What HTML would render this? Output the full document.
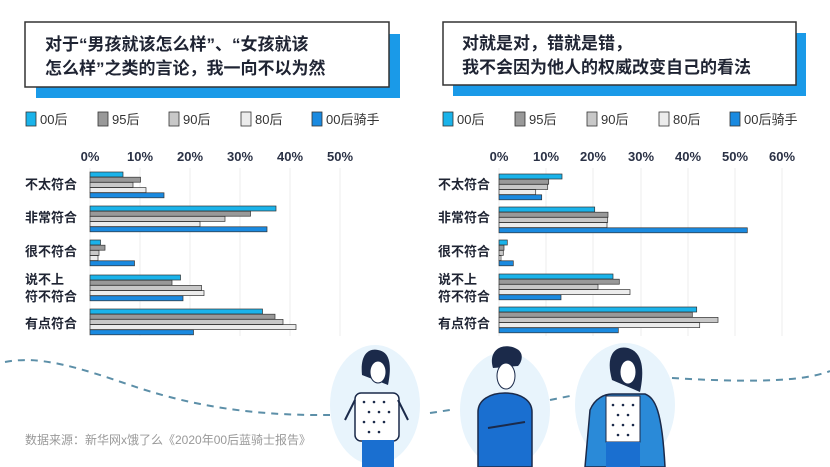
<!DOCTYPE html>
<html><head><meta charset="utf-8"><style>
html,body{margin:0;padding:0;background:#fff;}
svg{display:block;font-family:"Liberation Sans","Noto Sans CJK SC",sans-serif;}
</style></head><body>
<svg width="830" height="467" viewBox="0 0 830 467" xmlns="http://www.w3.org/2000/svg">
<rect x="36" y="34" width="364" height="64" fill="#1a9ae8"/>
<rect x="25" y="22" width="364" height="65" fill="#fff" stroke="#333" stroke-width="1.5"/>
<text x="45" y="50" font-size="17" font-weight="bold" fill="#1f2433">对于“男孩就该怎么样”、“女孩就该</text>
<text x="45" y="74" font-size="17" font-weight="bold" fill="#1f2433">怎么样”之类的言论，我一向不以为然</text>
<rect x="453" y="33" width="353" height="63" fill="#1a9ae8"/>
<rect x="443" y="22" width="353" height="63" fill="#fff" stroke="#333" stroke-width="1.5"/>
<text x="462" y="49" font-size="17" font-weight="bold" fill="#1f2433">对就是对，错就是错，</text>
<text x="462" y="73" font-size="17" font-weight="bold" fill="#1f2433">我不会因为他人的权威改变自己的看法</text>

<g font-size="13" fill="#333">
<rect x="26" y="112" width="10" height="14" fill="#1ab3ea" stroke="#333" stroke-width="0.8"/><text x="40" y="124">00后</text>
<rect x="98" y="112" width="10" height="14" fill="#999" stroke="#333" stroke-width="0.8"/><text x="112" y="124">95后</text>
<rect x="169" y="112" width="10" height="14" fill="#c8c8c8" stroke="#333" stroke-width="0.8"/><text x="183" y="124">90后</text>
<rect x="241" y="112" width="10" height="14" fill="#ececec" stroke="#333" stroke-width="0.8"/><text x="255" y="124">80后</text>
<rect x="312" y="112" width="10" height="14" fill="#1a8ae0" stroke="#333" stroke-width="0.8"/><text x="326" y="124">00后骑手</text>
<rect x="443" y="112" width="10" height="14" fill="#1ab3ea" stroke="#333" stroke-width="0.8"/><text x="457" y="124">00后</text>
<rect x="515" y="112" width="10" height="14" fill="#999" stroke="#333" stroke-width="0.8"/><text x="529" y="124">95后</text>
<rect x="587" y="112" width="10" height="14" fill="#c8c8c8" stroke="#333" stroke-width="0.8"/><text x="601" y="124">90后</text>
<rect x="659" y="112" width="10" height="14" fill="#ececec" stroke="#333" stroke-width="0.8"/><text x="673" y="124">80后</text>
<rect x="730" y="112" width="10" height="14" fill="#1a8ae0" stroke="#333" stroke-width="0.8"/><text x="744" y="124">00后骑手</text>
</g>

<g stroke="#eee" stroke-width="1">
<line x1="90" y1="168" x2="90" y2="336"/><line x1="140" y1="168" x2="140" y2="336"/><line x1="190" y1="168" x2="190" y2="336"/><line x1="240" y1="168" x2="240" y2="336"/><line x1="290" y1="168" x2="290" y2="336"/><line x1="340" y1="168" x2="340" y2="336"/>
<line x1="499" y1="168" x2="499" y2="336"/><line x1="546" y1="168" x2="546" y2="336"/><line x1="593" y1="168" x2="593" y2="336"/><line x1="641" y1="168" x2="641" y2="336"/><line x1="688" y1="168" x2="688" y2="336"/><line x1="735" y1="168" x2="735" y2="336"/><line x1="782" y1="168" x2="782" y2="336"/>
</g>
<g font-size="13" font-weight="bold" fill="#2a3145" text-anchor="middle">
<text x="90" y="161">0%</text><text x="140" y="161">10%</text><text x="190" y="161">20%</text><text x="240" y="161">30%</text><text x="290" y="161">40%</text><text x="340" y="161">50%</text>
<text x="499" y="161">0%</text><text x="546" y="161">10%</text><text x="593" y="161">20%</text><text x="641" y="161">30%</text><text x="688" y="161">40%</text><text x="735" y="161">50%</text><text x="782" y="161">60%</text>
</g>
<g font-size="13" font-weight="bold" fill="#1f2433">
<text x="25" y="189">不太符合</text><text x="25" y="222">非常符合</text><text x="25" y="256">很不符合</text><text x="25" y="284">说不上</text><text x="25" y="301">符不符合</text><text x="25" y="328">有点符合</text>
<text x="438" y="189">不太符合</text><text x="438" y="222">非常符合</text><text x="438" y="256">很不符合</text><text x="438" y="284">说不上</text><text x="438" y="301">符不符合</text><text x="438" y="328">有点符合</text>
</g>

<g stroke="#333" stroke-width="0.7">
<rect x="90" y="172" width="33" height="5" fill="#1ab3ea"/><rect x="90" y="177.2" width="50.5" height="5" fill="#999"/><rect x="90" y="182.4" width="43" height="5" fill="#c8c8c8"/><rect x="90" y="187.6" width="56" height="5" fill="#ececec"/><rect x="90" y="192.8" width="74" height="5" fill="#1a8ae0"/>
<rect x="90" y="206" width="186" height="5" fill="#1ab3ea"/><rect x="90" y="211.2" width="160.5" height="5" fill="#999"/><rect x="90" y="216.4" width="135" height="5" fill="#c8c8c8"/><rect x="90" y="221.6" width="110" height="5" fill="#ececec"/><rect x="90" y="226.8" width="177" height="5" fill="#1a8ae0"/>
<rect x="90" y="240" width="10.5" height="5" fill="#1ab3ea"/><rect x="90" y="245.2" width="15" height="5" fill="#999"/><rect x="90" y="250.4" width="9" height="5" fill="#c8c8c8"/><rect x="90" y="255.6" width="8" height="5" fill="#ececec"/><rect x="90" y="260.8" width="44.5" height="5" fill="#1a8ae0"/>
<rect x="90" y="275" width="90.5" height="5" fill="#1ab3ea"/><rect x="90" y="280.2" width="82" height="5" fill="#999"/><rect x="90" y="285.4" width="111.5" height="5" fill="#c8c8c8"/><rect x="90" y="290.6" width="114" height="5" fill="#ececec"/><rect x="90" y="295.8" width="93" height="5" fill="#1a8ae0"/>
<rect x="90" y="309" width="172.5" height="5" fill="#1ab3ea"/><rect x="90" y="314.2" width="185" height="5" fill="#999"/><rect x="90" y="319.4" width="193" height="5" fill="#c8c8c8"/><rect x="90" y="324.6" width="206" height="5" fill="#ececec"/><rect x="90" y="329.8" width="103.5" height="5" fill="#1a8ae0"/>
<rect x="499" y="174" width="63" height="5" fill="#1ab3ea"/><rect x="499" y="179.2" width="49.7" height="5" fill="#999"/><rect x="499" y="184.4" width="48.7" height="5" fill="#c8c8c8"/><rect x="499" y="189.6" width="36.7" height="5" fill="#ececec"/><rect x="499" y="194.8" width="42.7" height="5" fill="#1a8ae0"/>
<rect x="499" y="207" width="95.7" height="5" fill="#1ab3ea"/><rect x="499" y="212.2" width="109" height="5" fill="#999"/><rect x="499" y="217.4" width="108.7" height="5" fill="#c8c8c8"/><rect x="499" y="222.6" width="108" height="5" fill="#ececec"/><rect x="499" y="227.8" width="248.3" height="5" fill="#1a8ae0"/>
<rect x="499" y="240" width="8.3" height="5" fill="#1ab3ea"/><rect x="499" y="245.2" width="5" height="5" fill="#999"/><rect x="499" y="250.4" width="4.3" height="5" fill="#c8c8c8"/><rect x="499" y="255.6" width="2" height="5" fill="#ececec"/><rect x="499" y="260.8" width="14.3" height="5" fill="#1a8ae0"/>
<rect x="499" y="274" width="114" height="5" fill="#1ab3ea"/><rect x="499" y="279.2" width="120.3" height="5" fill="#999"/><rect x="499" y="284.4" width="99" height="5" fill="#c8c8c8"/><rect x="499" y="289.6" width="131" height="5" fill="#ececec"/><rect x="499" y="294.8" width="62" height="5" fill="#1a8ae0"/>
<rect x="499" y="307" width="197.7" height="5" fill="#1ab3ea"/><rect x="499" y="312.2" width="193.3" height="5" fill="#999"/><rect x="499" y="317.4" width="219" height="5" fill="#c8c8c8"/><rect x="499" y="322.6" width="200.7" height="5" fill="#ececec"/><rect x="499" y="327.8" width="119.3" height="5" fill="#1a8ae0"/>
</g>

<path d="M5 362 C40 355 80 368 130 385 C180 402 240 416 330 415" fill="none" stroke="#5c8fa8" stroke-width="2" stroke-dasharray="7 6"/>
<path d="M430 413 L450 410 M550 400 L575 395" fill="none" stroke="#5c8fa8" stroke-width="2" stroke-dasharray="7 6"/>
<path d="M672 378 C720 381 770 382 800 378 C815 376 825 373 830 371" fill="none" stroke="#5c8fa8" stroke-width="2" stroke-dasharray="7 6"/>

<g>
<ellipse cx="375" cy="405" rx="45" ry="60" fill="#e8f4fc"/>
<ellipse cx="505" cy="410" rx="45" ry="58" fill="#e8f4fc"/>
<ellipse cx="625" cy="405" rx="50" ry="62" fill="#e8f4fc"/>
<path d="M362 375 C360 355 368 348 378 350 C390 352 392 365 388 385 Z" fill="#1b2a4a"/>
<ellipse cx="378" cy="372" rx="8" ry="11" fill="#fff" stroke="#1b2a4a"/>
<rect x="355" y="393" width="44" height="48" rx="6" fill="#fff" stroke="#1b2a4a" stroke-width="1.5"/>
<path d="M345 420 L355 400 M408 420 L398 400" stroke="#1b2a4a" stroke-width="2"/>
<rect x="362" y="440" width="32" height="27" fill="#1a6fd0"/>
<path d="M493 368 C488 352 500 342 515 348 C525 352 522 362 518 366 Z" fill="#1b2a4a"/>
<ellipse cx="506" cy="376" rx="9" ry="13" fill="#fff" stroke="#1b2a4a"/>
<path d="M478 467 L478 412 C478 400 490 393 505 393 C520 393 532 400 532 412 L532 467 Z" fill="#1a6fd0" stroke="#1b2a4a" stroke-width="1.5"/>
<path d="M488 428 L525 422" stroke="#1b2a4a" stroke-width="2"/>
<path d="M612 380 C605 355 615 345 628 348 C642 352 645 368 640 392 Z" fill="#1b2a4a"/>
<ellipse cx="628" cy="372" rx="8" ry="12" fill="#fff" stroke="#1b2a4a"/>
<path d="M585 467 L590 410 C595 398 605 394 612 394 L645 394 C655 398 662 410 665 467 Z" fill="#2a8ad8" stroke="#1b2a4a" stroke-width="1.5"/>
<rect x="606" y="396" width="34" height="46" fill="#fff" stroke="#1b2a4a"/>
<rect x="606" y="442" width="34" height="25" fill="#1a6fd0"/>
</g>
<g fill="#1b2a4a">
<circle cx="364" cy="402" r="1.3"/><circle cx="374" cy="402" r="1.3"/><circle cx="384" cy="402" r="1.3"/><circle cx="369" cy="412" r="1.3"/><circle cx="379" cy="412" r="1.3"/><circle cx="389" cy="412" r="1.3"/><circle cx="364" cy="422" r="1.3"/><circle cx="374" cy="422" r="1.3"/><circle cx="384" cy="422" r="1.3"/><circle cx="369" cy="432" r="1.3"/><circle cx="379" cy="432" r="1.3"/>
<circle cx="613" cy="405" r="1.3"/><circle cx="623" cy="405" r="1.3"/><circle cx="633" cy="405" r="1.3"/><circle cx="618" cy="415" r="1.3"/><circle cx="628" cy="415" r="1.3"/><circle cx="613" cy="425" r="1.3"/><circle cx="623" cy="425" r="1.3"/><circle cx="633" cy="425" r="1.3"/><circle cx="618" cy="435" r="1.3"/><circle cx="628" cy="435" r="1.3"/>
</g>

<text x="25" y="444" font-size="12" fill="#999">数据来源：新华网x饿了么《2020年00后蓝骑士报告》</text>
</svg>
</body></html>
